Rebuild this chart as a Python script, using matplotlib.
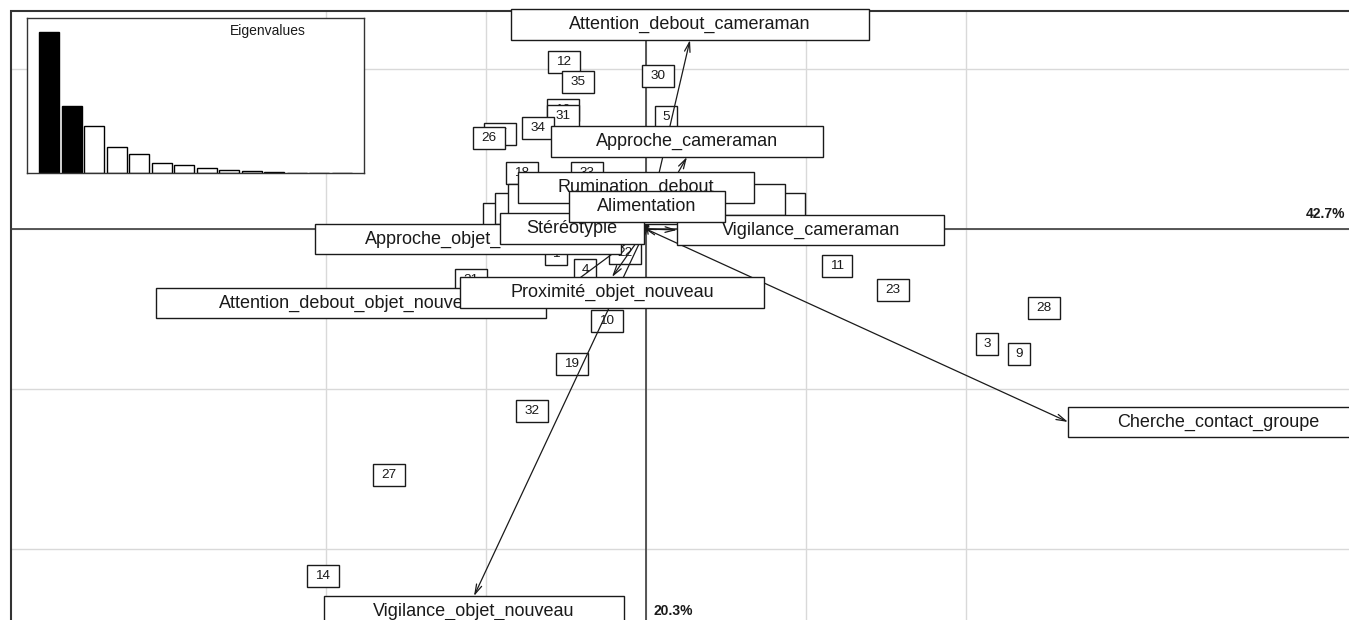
import matplotlib
matplotlib.use('Agg')
import matplotlib.pyplot as plt
from matplotlib.patches import Rectangle, FancyArrowPatch

plt.rcParams['font.family'] = ['Liberation Sans', 'DejaVu Sans']

# PCA eigenvalues (14 behaviour variables), first nf axes kept
eigenvalues = [5.98, 2.84, 1.99, 1.10, 0.81, 0.42, 0.34, 0.21, 0.13,
               0.085, 0.045, 0.02, 0.012, 0.008]
nf = 2

# individuals: scores on axis 1 / axis 2
row_labels = [str(i) for i in range(1, 36)]
row_x = [-0.5625, -0.2875, 2.131, -0.381, 0.125, -0.0375, 0.3375, -0.5375, 2.331, -0.244,
         1.194, -0.5125, 0.5875, -2.019, 0.8375, -0.519, -0.9125, -0.775, -0.4625, -0.6625,
         -1.094, -0.131, 1.544, 0.4625, 0.025, -0.981, -1.606, 2.4875, 0.7125, 0.075,
         -0.519, -0.7125, -0.369, -0.675, -0.425]
row_y = [-0.156, 0.119, -0.719, -0.256, 0.7, 0.181, 0.131, -0.006, -0.781, -0.575,
         -0.231, 1.044, 0.15, -2.169, 0.131, 0.744, 0.594, 0.35, -0.844, 0.181,
         -0.319, -0.15, -0.381, -0.019, 0.525, 0.569, -1.5375, -0.494, 0.556, 0.956,
         0.706, -1.1375, 0.35, 0.631, 0.919]

# behaviour variables: arrow ends on axis 1 / axis 2
var_names = ['Attention_debout_cameraman', 'Approche_cameraman', 'Exploration',
             'Evitement_objet_nouveau', 'Evitement_cameraman', 'Vigilance_cameraman',
             'Rumination_debout', 'Approche_objet_nouveau', 'Stéréotypie', 'Alimentation',
             'Attention_debout_objet_nouveau', 'Proximité_objet_nouveau',
             'Cherche_contact_groupe', 'Vigilance_objet_nouveau']
var_x = [0.275, 0.256, -0.131, 0.025, 0.003, 0.194, -0.0625, -0.156,
         -0.012, 0.006, -0.625, -0.2125, 2.6375, -1.075]
var_y = [1.181, 0.45, 0.069, 0.031, 0.0875, -0.006, 0.1625, -0.0625,
         0.004, 0.044, -0.4625, -0.3, -1.206, -2.294]

pct = [100.0 * e / sum(eigenvalues) for e in eigenvalues]

fig = plt.figure(figsize=(13.49, 6.2), dpi=100)
ax = fig.add_axes([0, 0, 1, 1])
ax.set_xlim(-4.0375, 4.39375)
ax.set_ylim(-2.44375, 1.43125)
ax.set_axis_off()

# plot frame: only its top and left sides are in view
frame_left, frame_top = -3.969, 1.3625
xmax, ymin = 4.5, -2.5
ax.plot([frame_left, frame_left, xmax], [ymin, frame_top, frame_top],
        color='#333333', lw=1.5, zorder=2, solid_joinstyle='miter')

grid_col = '#d9d9d9'
for v in range(-2, 3):
    ax.plot([v, v], [ymin, frame_top], color=grid_col, lw=1, zorder=1)
for h in range(-2, 2):
    ax.plot([frame_left, xmax], [h, h], color=grid_col, lw=1, zorder=1)
ax.plot([frame_left, xmax], [0, 0], color='#3c3c3c', lw=1.2, zorder=2)
ax.plot([0, 0], [ymin, frame_top], color='#3c3c3c', lw=1.2, zorder=2)

fig.canvas.draw()
renderer = fig.canvas.get_renderer()
ppu = ax.transData.transform((1, 0))[0] - ax.transData.transform((0, 0))[0]


def box_size(s, size):
    t = ax.text(0, 0, s, fontsize=size)
    tw = t.get_window_extent(renderer).width
    t.remove()
    fpx = size * fig.dpi / 72.0
    w = 1.42 * (tw + 0.556 * fpx) / ppu
    h = 1.7 * fpx / ppu
    return w, h


def boxed(xc, yc, s, size, w, h, z):
    ax.add_patch(Rectangle((xc - w / 2, yc - h / 2), w, h, facecolor='white',
                           edgecolor='#1a1a1a', lw=1.0, zorder=z))
    ax.text(xc, yc, s, fontsize=size, ha='center', va='center',
            color='#1a1a1a', zorder=z + 0.005)


# individuals, labels boxed at their scores
for i, (lab, x, y) in enumerate(zip(row_labels, row_x, row_y)):
    w, h = box_size(lab, 9.7)
    boxed(x, y, lab, 9.7, w, h, 3 + i * 0.01)

# variable arrows
for x, y in zip(var_x, var_y):
    ax.add_patch(FancyArrowPatch((0, 0), (x, y),
                                 arrowstyle='->,head_length=0.7,head_width=0.2',
                                 mutation_scale=10, lw=0.9, color='#1a1a1a',
                                 shrinkA=0, shrinkB=0, zorder=4))

# variable labels pushed outside the arrow tip
for i, (name, x, y) in enumerate(zip(var_names, var_x, var_y)):
    w, h = box_size(name, 13)
    if x > y and x > -y:
        xc, yc = x + w / 2, y
    elif x > y and x <= -y:
        xc, yc = x, y - h / 2
    elif x <= y and x <= -y:
        xc, yc = x - w / 2, y
    else:
        xc, yc = x, y + h / 2
    boxed(xc, yc, name, 13, w, h, 5 + i * 0.02)

ax.text(4.37, 0.05, f'{pct[0]:.1f}%', ha='right', va='bottom',
        fontsize=10, fontweight='bold', color='#1a1a1a', zorder=6)
ax.text(0.05, -2.3875, f'{pct[1]:.1f}%', ha='left', va='center',
        fontsize=10, fontweight='bold', color='#1a1a1a', zorder=6)

# eigenvalue inset
ins = fig.add_axes([27 / 1349, 1 - 173 / 620, 337 / 1349, 155 / 620])
ins.set_facecolor('white')
pos = list(range(1, len(eigenvalues) + 1))
cols = ['black' if i < nf else 'white' for i in range(len(eigenvalues))]
ins.bar(pos, eigenvalues, width=0.88, color=cols, edgecolor='black', lw=1)
ins.set_xlim(0.02, len(eigenvalues) + 0.98)
ins.set_ylim(0, eigenvalues[0] * 1.1)
ins.set_xticks([])
ins.set_yticks([])
for sp in ins.spines.values():
    sp.set_color('#333333')
    sp.set_linewidth(1.0)
ins.text(0.715, 0.96, 'Eigenvalues', transform=ins.transAxes, ha='center',
         va='top', fontsize=10, color='#1a1a1a')

fig.savefig('out.png', dpi=100)
